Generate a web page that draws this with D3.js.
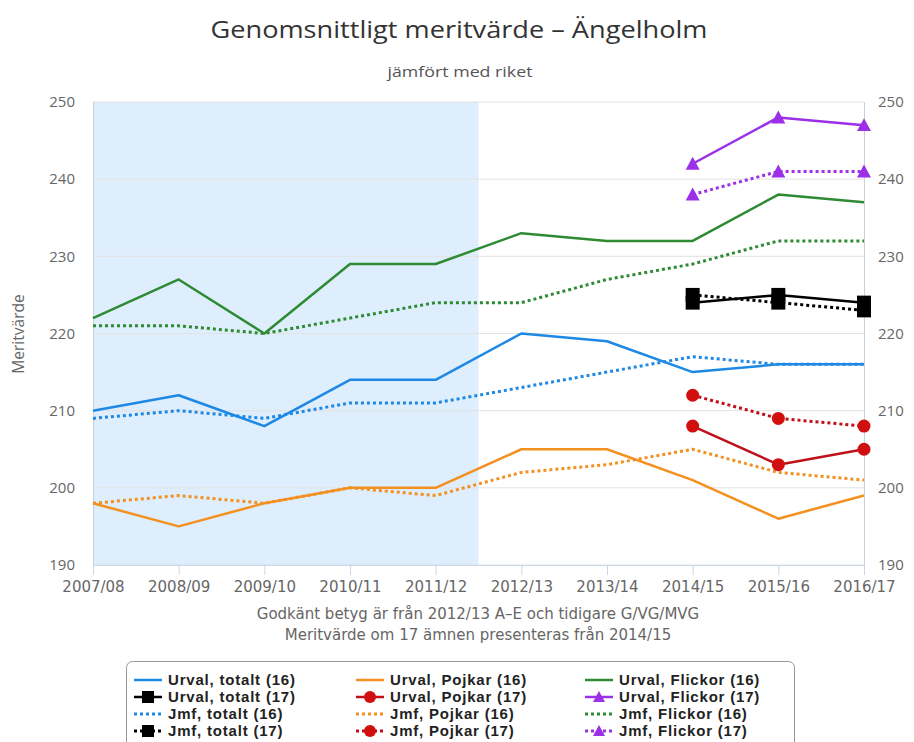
<!DOCTYPE html>
<html><head><meta charset="utf-8">
<script src="https://cdn.jsdelivr.net/npm/d3@7"></script>
<style>body{margin:0;background:#fff}svg{display:block}</style>
</head><body>
<svg id="c" width="914" height="742"></svg>
<script>
const categories = ["2007/08","2008/09","2009/10","2010/11","2011/12","2012/13","2013/14","2014/15","2015/16","2016/17"];
const yTicks = [190,200,210,220,230,240,250];
const cat17 = ["2014/15","2015/16","2016/17"];

const urvalTotalt16 = [210,212,208,214,214,220,219,215,216,216];
const jmfTotalt16   = [209,210,209,211,211,213,215,217,216,216];
const urvalPojkar16 = [198,195,198,200,200,205,205,201,196,199];
const jmfPojkar16   = [198,199,198,200,199,202,203,205,202,201];
const urvalFlickor16= [222,227,220,229,229,233,232,232,238,237];
const jmfFlickor16  = [221,221,220,222,224,224,227,229,232,232];

const urvalTotalt17 = [224,225,224];
const jmfTotalt17   = [225,224,223];
const urvalPojkar17 = [208,203,205];
const jmfPojkar17   = [212,209,208];
const urvalFlickor17= [242,248,247];
const jmfFlickor17  = [238,241,241];

const legendLabels = [
 ["Urval, totalt (16)","Urval, totalt (17)","Jmf, totalt (16)","Jmf, totalt (17)"],
 ["Urval, Pojkar (16)","Urval, Pojkar (17)","Jmf, Pojkar (16)","Jmf, Pojkar (17)"],
 ["Urval, Flickor (16)","Urval, Flickor (17)","Jmf, Flickor (16)","Jmf, Flickor (17)"]
];

const BLUE="#1e88e5", ORANGE="#f39020", GREEN="#2e8b34", PURPLE="#9b30e8", RED="#d20f0f", DRED="#c0101a", BLACK="#000";

const series = [
 {cats:categories, vals:urvalTotalt16, color:BLUE, dotted:false, marker:null},
 {cats:categories, vals:jmfTotalt16, color:BLUE, dotted:true, marker:null},
 {cats:categories, vals:urvalPojkar16, color:ORANGE, dotted:false, marker:null},
 {cats:categories, vals:jmfPojkar16, color:ORANGE, dotted:true, marker:null},
 {cats:categories, vals:urvalFlickor16, color:GREEN, dotted:false, marker:null},
 {cats:categories, vals:jmfFlickor16, color:GREEN, dotted:true, marker:null},
 {cats:cat17, vals:urvalTotalt17, color:BLACK, mcolor:BLACK, dotted:false, marker:"square"},
 {cats:cat17, vals:jmfTotalt17, color:BLACK, mcolor:BLACK, dotted:true, marker:"square"},
 {cats:cat17, vals:urvalPojkar17, color:DRED, mcolor:RED, dotted:false, marker:"circle"},
 {cats:cat17, vals:jmfPojkar17, color:DRED, mcolor:RED, dotted:true, marker:"circle"},
 {cats:cat17, vals:urvalFlickor17, color:PURPLE, mcolor:PURPLE, dotted:false, marker:"triangle"},
 {cats:cat17, vals:jmfFlickor17, color:PURPLE, mcolor:PURPLE, dotted:true, marker:"triangle"}
];

const svg = d3.select("#c");
const L=93, R=864, T=102, B=565;
const x = d3.scalePoint().domain(categories).range([L,R]);
const y = d3.scaleLinear().domain([190,250]).range([B,T]);
const step = x.step();

// band
svg.append("rect").attr("x",L).attr("y",T)
  .attr("width", x("2011/12")+step/2 - L).attr("height", B-T).attr("fill","#deeefc");

// grid
svg.append("g").selectAll("line").data(yTicks).join("line")
  .attr("x1",L).attr("x2",R).attr("y1",d=>y(d)).attr("y2",d=>y(d))
  .attr("stroke","#e2e2e2").attr("stroke-width",1);

// plot border lines
svg.append("line").attr("x1",L+0.5).attr("x2",L+0.5).attr("y1",T).attr("y2",B).attr("stroke","#ccd0d8");
svg.append("line").attr("x1",R+0.5).attr("x2",R+0.5).attr("y1",T).attr("y2",B).attr("stroke","#ccd0d8");
svg.append("line").attr("x1",L).attr("x2",R).attr("y1",B+0.5).attr("y2",B+0.5).attr("stroke","#ccd6eb");

// x axis
const xAxis = d3.axisBottom(x).tickSize(10).tickSizeOuter(0);
const gx = svg.append("g").attr("transform",`translate(0,${B})`).call(xAxis);
gx.select(".domain").remove();
gx.selectAll(".tick line").attr("stroke","#ccd6eb");
gx.selectAll(".tick text").attr("dy",null).attr("y",27)
  .attr("font-family","DejaVu Sans, sans-serif").attr("font-size","15px").attr("fill","#666");

// y axes
const fmt = d3.format("d");
const gyl = svg.append("g").attr("transform",`translate(${L-18},0)`)
  .call(d3.axisLeft(y).tickValues(yTicks).tickSize(0).tickFormat(fmt));
gyl.select(".domain").remove();
gyl.selectAll("text").attr("font-family","Open Sans, sans-serif").attr("font-size","15px").attr("fill","#666").attr("x",0);
const gyr = svg.append("g").attr("transform",`translate(${R+14},0)`)
  .call(d3.axisRight(y).tickValues(yTicks).tickSize(0).tickFormat(fmt));
gyr.select(".domain").remove();
gyr.selectAll("text").attr("font-family","Open Sans, sans-serif").attr("font-size","15px").attr("fill","#666").attr("x",0);

// y title
svg.append("text").attr("transform",`translate(24,334) rotate(-90)`)
  .attr("text-anchor","middle").attr("font-family","Open Sans, sans-serif").attr("font-size","15.5px").attr("fill","#666").text("Meritvärde");

// title
svg.append("text").attr("x",459).attr("y",38).attr("text-anchor","middle")
  .attr("font-family","Open Sans, sans-serif").attr("font-size","23px").attr("fill","#333")
  .attr("textLength",497).attr("lengthAdjust","spacingAndGlyphs").text("Genomsnittligt meritvärde – Ängelholm");
svg.append("text").attr("x",460).attr("y",77).attr("text-anchor","middle")
  .attr("font-family","Open Sans, sans-serif").attr("font-size","15px").attr("fill","#555")
  .attr("textLength",145).attr("lengthAdjust","spacingAndGlyphs").text("jämfört med riket");

// x title
svg.append("text").attr("x",478).attr("y",619).attr("text-anchor","middle")
  .attr("font-family","DejaVu Sans, sans-serif").attr("font-size","15px").attr("fill","#666")
  .text("Godkänt betyg är från 2012/13 A–E och tidigare G/VG/MVG");
svg.append("text").attr("x",478).attr("y",640).attr("text-anchor","middle")
  .attr("font-family","DejaVu Sans, sans-serif").attr("font-size","15px").attr("fill","#666")
  .text("Meritvärde om 17 ämnen presenteras från 2014/15");

// lines
const line = d3.line();
function drawMarker(g, type, cx, cy, color, s){
  if(type==="square") g.append("rect").attr("x",cx-s).attr("y",cy-s).attr("width",2*s).attr("height",2*s).attr("fill",color);
  else if(type==="circle") g.append("circle").attr("cx",cx).attr("cy",cy).attr("r",s).attr("fill",color);
  else if(type==="triangle") g.append("path").attr("d",`M${cx},${cy-s}L${cx+s},${cy+s*0.85}L${cx-s},${cy+s*0.85}Z`).attr("fill",color);
}
const gl = svg.append("g");
series.forEach(s=>{
  const pts = s.cats.map((c,i)=>[x(c), y(s.vals[i])]);
  gl.append("path").attr("d",line(pts)).attr("fill","none").attr("stroke",s.color)
    .attr("stroke-width",s.dotted?3:2.5).attr("stroke-linejoin","round")
    .attr("stroke-dasharray",s.dotted?"3,3":null);
});
series.forEach(s=>{
  if(!s.marker) return;
  s.cats.forEach((c,i)=>{
    const sz = s.marker==="square"?7:(s.marker==="circle"?6.5:7);
    drawMarker(gl, s.marker, x(c), y(s.vals[i]), s.mcolor, sz);
  });
});

// legend
const lg = svg.append("g");
lg.append("rect").attr("x",126.5).attr("y",661.5).attr("width",668).attr("height",90).attr("rx",6)
  .attr("fill","#fff").attr("stroke","#999");
const colX = [134,356,585];
const rowY = [680,697,714,731];
const legendSeries = [[0,6,1,7],[2,8,3,9],[4,10,5,11]];
legendLabels.forEach((col,ci)=>{
  col.forEach((lab,ri)=>{
    const s = series[legendSeries[ci][ri]];
    const x0 = colX[ci], yy = rowY[ri];
    lg.append("line").attr("x1",x0).attr("x2",x0+28).attr("y1",yy).attr("y2",yy)
      .attr("stroke",s.color).attr("stroke-width",s.dotted?3:2.5).attr("stroke-dasharray",s.dotted?"3,3":null);
    if(s.marker) drawMarker(lg, s.marker, x0+14, yy, s.mcolor, 6);
    lg.append("text").attr("x",x0+34).attr("y",yy+5).attr("font-family","Liberation Sans, Arial, sans-serif")
      .attr("font-weight","bold").attr("font-size","15px").attr("letter-spacing","0.8px").attr("fill","#222").text(lab);
  });
});
</script>
</body></html>
